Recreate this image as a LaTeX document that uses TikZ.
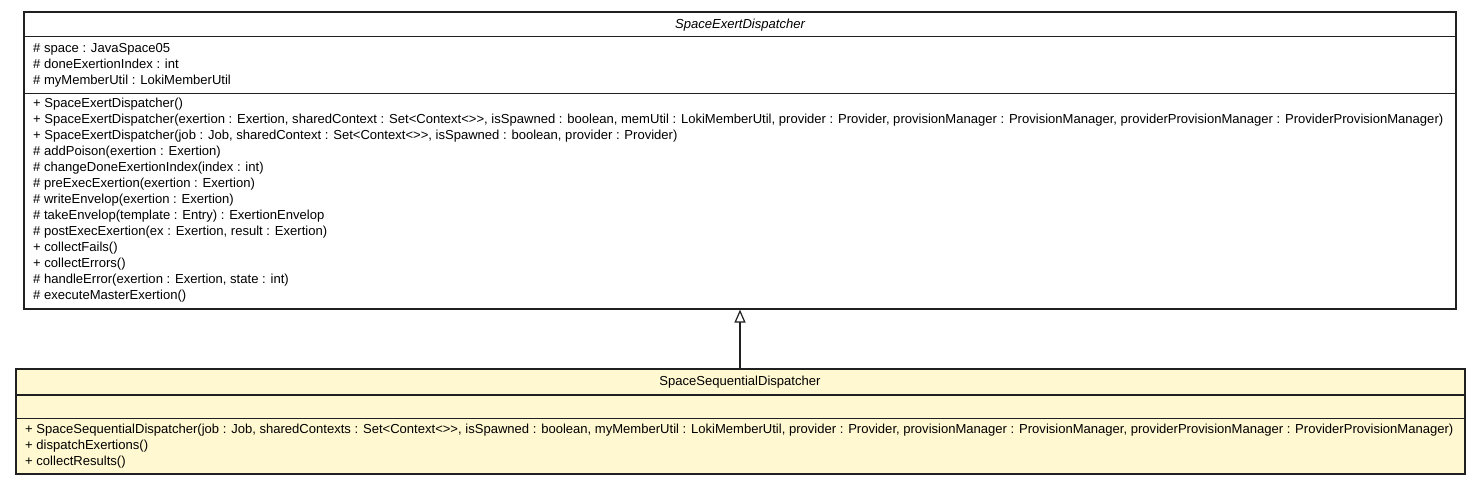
\documentclass[tikz,border=0pt]{standalone}
\usepackage{fontspec}
\setmainfont{Liberation Sans}
\usetikzlibrary{arrows.meta}
\definecolor{umlfill}{HTML}{FFF8D0}
\definecolor{umlline}{HTML}{202020}
\newcommand{\gtgt}{>\kern0pt>}
\tikzset{
  classbox/.style={draw=umlline, line width=1.2pt, minimum width=#1, inner sep=0pt},
  member/.style={anchor=base west, inner sep=0pt, font=\fontsize{13.05}{16}\selectfont},
  cname/.style={anchor=base, inner sep=0pt, font=\fontsize{13.05}{16}\selectfont},
  sep/.style={draw=umlline, line width=1.2pt},
  inherit/.style={draw=umlline, line width=1.2pt, -{Triangle[open, length=13pt, width=11pt]}}
}
\begin{document}
\begin{tikzpicture}[x=1pt, y=-1pt]
\useasboundingbox (0,0) rectangle (1480,485);
% superclass
\node[classbox=1432pt, minimum height=297pt, fill=white] (super) at (740,160.5) {};
\draw[sep] (24,36.7) -- (1456,36.7);
\draw[sep] (24,93.3) -- (1456,93.3);
\node[cname, font=\fontsize{13.05}{16}\selectfont\itshape] (superName) at (740,28.5) {SpaceExertDispatcher};
\node[member] (a1) at (33,52) {\# space : JavaSpace05};
\node[member] (a2) at (33,68) {\# doneExertionIndex : int};
\node[member] (a3) at (33,84) {\# myMemberUtil : LokiMemberUtil};
\node[member] (m1) at (33,107.6) {+ SpaceExertDispatcher()};
\node[member] (m2) at (33,123.6) {+ SpaceExertDispatcher(exertion : Exertion, sharedContext : Set<Context<\gtgt, isSpawned : boolean, memUtil : LokiMemberUtil, provider : Provider, provisionManager : ProvisionManager, providerProvisionManager : ProviderProvisionManager)};
\node[member] (m3) at (33,139.6) {+ SpaceExertDispatcher(job : Job, sharedContext : Set<Context<\gtgt, isSpawned : boolean, provider : Provider)};
\node[member] (m4) at (33,155.6) {\# addPoison(exertion : Exertion)};
\node[member] (m5) at (33,171.6) {\# changeDoneExertionIndex(index : int)};
\node[member] (m6) at (33,187.6) {\# preExecExertion(exertion : Exertion)};
\node[member] (m7) at (33,203.6) {\# writeEnvelop(exertion : Exertion)};
\node[member] (m8) at (33,219.6) {\# takeEnvelop(template : Entry) : ExertionEnvelop};
\node[member] (m9) at (33,235.6) {\# postExecExertion(ex : Exertion, result : Exertion)};
\node[member] (m10) at (33,251.6) {+ collectFails()};
\node[member] (m11) at (33,267.6) {+ collectErrors()};
\node[member] (m12) at (33,283.6) {\# handleError(exertion : Exertion, state : int)};
\node[member] (m13) at (33,299.6) {\# executeMasterExertion()};
% subclass
\node[classbox=1449pt, minimum height=105pt, fill=umlfill] (sub) at (740.5,421.5) {};
\draw[sep] (16,395) -- (1465,395);
\draw[sep] (16,418.3) -- (1465,418.3);
\node[cname] (subName) at (740,385.8) {SpaceSequentialDispatcher};
\node[member] (s1) at (25,433.6) {+ SpaceSequentialDispatcher(job : Job, sharedContexts : Set<Context<\gtgt, isSpawned : boolean, myMemberUtil : LokiMemberUtil, provider : Provider, provisionManager : ProvisionManager, providerProvisionManager : ProviderProvisionManager)};
\node[member] (s2) at (25,449.6) {+ dispatchExertions()};
\node[member] (s3) at (25,465.6) {+ collectResults()};
% inheritance
\draw[inherit] (sub.north -| 740,0) -- (super.south -| 740,0);
\end{tikzpicture}
\end{document}
